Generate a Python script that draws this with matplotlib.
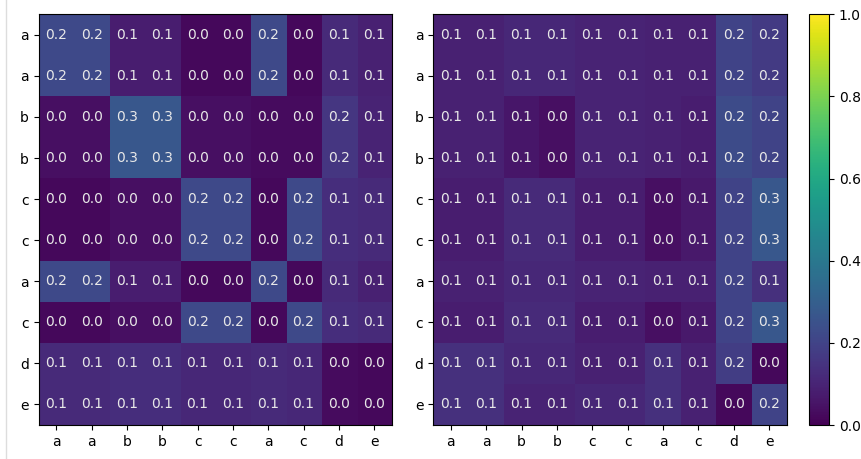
import numpy as np
import matplotlib
matplotlib.use("Agg")
import matplotlib.pyplot as plt
from matplotlib.lines import Line2D

labels = ["a", "a", "b", "b", "c", "c", "a", "c", "d", "e"]

# левая матрица
left_vals = np.array([
    [0.22, 0.22, 0.08, 0.08, 0.02, 0.02, 0.22, 0.02, 0.12, 0.09],
    [0.22, 0.22, 0.08, 0.08, 0.02, 0.02, 0.22, 0.02, 0.12, 0.09],
    [0.04, 0.04, 0.27, 0.27, 0.04, 0.04, 0.03, 0.03, 0.16, 0.10],
    [0.04, 0.04, 0.27, 0.27, 0.04, 0.04, 0.03, 0.03, 0.16, 0.10],
    [0.02, 0.02, 0.04, 0.04, 0.22, 0.22, 0.02, 0.22, 0.13, 0.12],
    [0.02, 0.02, 0.04, 0.04, 0.22, 0.22, 0.02, 0.22, 0.13, 0.12],
    [0.22, 0.22, 0.08, 0.08, 0.02, 0.02, 0.22, 0.02, 0.12, 0.09],
    [0.02, 0.02, 0.04, 0.04, 0.22, 0.22, 0.02, 0.22, 0.13, 0.12],
    [0.12, 0.12, 0.13, 0.13, 0.11, 0.11, 0.12, 0.11, 0.03, 0.02],
    [0.12, 0.12, 0.13, 0.13, 0.11, 0.11, 0.12, 0.11, 0.03, 0.02],
])

# правая матрица
right_vals = np.array([
    [0.09, 0.09, 0.11, 0.11, 0.10, 0.10, 0.09, 0.09, 0.20, 0.17],
    [0.09, 0.09, 0.11, 0.11, 0.10, 0.10, 0.09, 0.09, 0.20, 0.17],
    [0.09, 0.09, 0.06, 0.04, 0.10, 0.10, 0.09, 0.08, 0.23, 0.20],
    [0.09, 0.09, 0.06, 0.04, 0.10, 0.10, 0.09, 0.08, 0.23, 0.20],
    [0.08, 0.08, 0.12, 0.12, 0.08, 0.08, 0.04, 0.07, 0.20, 0.27],
    [0.08, 0.08, 0.12, 0.12, 0.08, 0.08, 0.04, 0.07, 0.20, 0.27],
    [0.09, 0.09, 0.11, 0.11, 0.10, 0.10, 0.09, 0.09, 0.20, 0.14],
    [0.08, 0.08, 0.12, 0.12, 0.08, 0.08, 0.04, 0.07, 0.20, 0.27],
    [0.14, 0.14, 0.11, 0.11, 0.09, 0.09, 0.14, 0.09, 0.18, 0.02],
    [0.14, 0.14, 0.10, 0.10, 0.11, 0.11, 0.14, 0.09, 0.02, 0.20],
])


def draw(ax, vals):
    im = ax.imshow(vals, cmap="viridis", vmin=0, vmax=1, aspect="auto")
    n = len(labels)
    ax.set_xticks(range(n))
    ax.set_yticks(range(n))
    ax.set_xticklabels(labels)
    ax.set_yticklabels(labels)
    for i in range(n):
        for j in range(n):
            ax.text(j, i, f"{vals[i, j]:.1f}", ha="center", va="center",
                    color="#e8e8e8", fontsize=10)
    return im


fig = plt.figure(figsize=(8.61, 4.59), dpi=100)
ax1 = fig.add_axes([0.045, 0.074, 0.410, 0.895])
ax2 = fig.add_axes([0.503, 0.074, 0.411, 0.895])
cax = fig.add_axes([0.9396, 0.074, 0.0232, 0.895])

draw(ax1, left_vals)
im = draw(ax2, right_vals)
fig.colorbar(im, cax=cax)

fig.add_artist(Line2D([5.5 / 861, 5.5 / 861], [0, 1], color="#dddddd", lw=1))

fig.savefig("out.png", dpi=100)
